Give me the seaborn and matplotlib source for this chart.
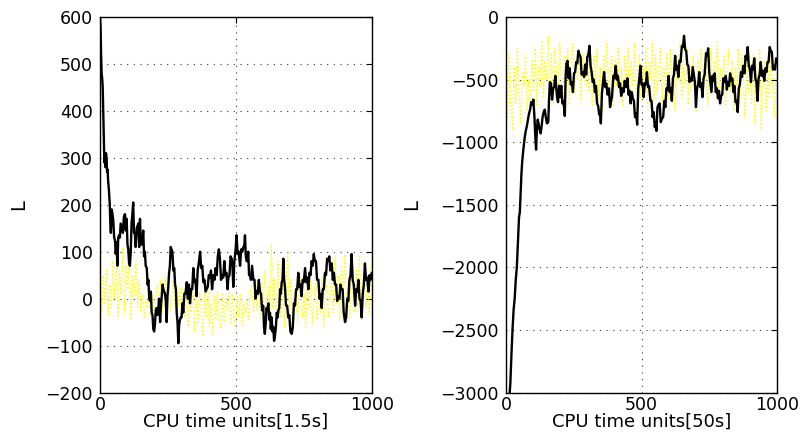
import numpy as np
import pandas as pd
import matplotlib
matplotlib.use("Agg")
import matplotlib.pyplot as plt
import seaborn as sns

# ---------------- data ----------------
left_black_t = [0, 2, 4, 6, 8, 10, 12, 14, 16, 18, 20, 22, 24, 26, 28, 30, 33, 36, 38, 40, 43, 46, 49, 52, 55, 58, 61, 64, 67, 70, 73, 76, 80, 84, 88, 92, 95, 98, 101, 104, 107, 110, 113, 116, 119, 122, 125, 128, 131, 135, 138, 141, 144, 147, 150, 153, 156, 159, 162, 165, 168, 172, 175, 178, 181, 184, 187, 190, 193, 196, 199, 202, 205, 208, 211, 214, 217, 221, 224, 227, 230, 233, 236, 239, 242, 245, 248, 251, 254, 257, 260, 263, 266, 270, 273, 276, 279, 282, 285, 288, 291, 294, 297, 300, 303, 306, 310, 314, 319, 323, 327, 331, 335, 339, 343, 347, 351, 355, 359, 363, 368, 372, 376, 380, 384, 388, 392, 396, 400, 404, 408, 412, 417, 421, 425, 429, 433, 437, 441, 445, 449, 453, 457, 461, 465, 469, 472, 476, 480, 484, 487, 490, 494, 498, 502, 506, 510, 515, 519, 523, 527, 530, 533, 536, 539, 542, 545, 548, 551, 555, 559, 564, 568, 572, 576, 580, 584, 588, 592, 596, 600, 603, 606, 609, 612, 615, 619, 622, 625, 628, 631, 634, 637, 640, 643, 646, 650, 653, 656, 659, 662, 665, 668, 671, 674, 677, 680, 684, 688, 692, 696, 700, 705, 709, 713, 717, 721, 725, 729, 733, 737, 741, 745, 749, 754, 758, 762, 766, 770, 774, 778, 782, 786, 790, 794, 798, 803, 807, 811, 815, 819, 823, 827, 831, 835, 839, 843, 847, 852, 856, 860, 864, 868, 872, 876, 880, 884, 888, 892, 896, 901, 905, 909, 913, 917, 921, 925, 929, 933, 938, 942, 946, 950, 954, 958, 962, 966, 970, 974, 978, 982, 987, 991, 995, 999]
left_black_L = [600, 580, 520, 480, 470, 450, 400, 340, 290, 300,
                280, 310, 300, 270, 275, 250, 230, 200, 160, 140,
                190, 180, 165, 130, 125, 95, 120, 70, 130, 135,
                130, 160, 150, 140, 175, 180, 145, 170, 115, 105,
                75, 70, 100, 160, 180, 205, 140, 140, 110, 150,
                155, 160, 110, 170, 120, 115, 125, 145, 90, 100,
                70, 65, 30, 40, 0, -5, 15, -30, -35, -65,
                -70, -55, -25, -20, -35, -25, 0, -50, -15, 5,
                30, 20, 15, 10, -5, -50, 5, 25, 55, 70,
                110, 105, 100, 60, 65, 30, 20, -30, -50, -95,
                -55, -45, -40, -40, -10, -30, 10, 10, 35, 0,
                30, -10, 20, 20, 65, 35, 40, 5, 60, 75,
                100, 65, 70, 35, 40, 15, 20, 25, 50, 45,
                60, 20, 50, 40, 65, 50, 90, 105, 85, 40,
                50, 45, 80, 50, 55, 20, 45, 50, 90, 85,
                70, 25, 80, 100, 135, 95, 100, 70, 105, 100,
                110, 110, 135, 90, 80, 80, 100, 50, 50, 40,
                70, 40, 40, 0, 15, 10, 40, 15, 10, -25,
                -15, -60, -75, -55, -20, -25, -10, -45, -30, -65,
                -40, -70, -60, -90, -80, -65, -30, -40, -25, -20,
                20, 10, 35, 40, 85, 40, 25, -15, -15, -40,
                -35, -70, -75, -60, -10, -15, 20, 20, 55, 25,
                30, 5, 40, 35, 65, 35, 45, 20, 55, 50,
                80, 70, 95, 80, 80, 40, 40, 0, 10, -20,
                20, 20, 55, 50, 85, 80, 90, 60, 75, 40,
                55, 30, 30, -5, 5, 0, 30, 20, 20, -30,
                -50, -40, 0, -5, 40, 50, 95, 40, 30, -15,
                20, 15, 40, 0, -5, -40, 10, 30, 75, 40,
                45, 15, 50, 40, 55]

left_yellow_L = [20, -30, 50, -10, 60, -35, 30,
                 -20, 80, 0, 100, -40, 60, 10, 110, -30, 70, 20, 90, -45, 50, 5, 80, -20, 40,
                 -30, 10, -40, 0, -20, 5, -35, 10, -25, 0,
                 30, -20, 40, -30, 20, 45, -10, 35, -25, 10, 40, -20, 30, -15, 25, -30, 20,
                 -40, 20, -60, 10, -30, 25, -70, 0, -50, 15, -20, -80, 10, -40, 20, -60, -10, -75, 5, -45, 15, -30, -65, 10, -50, 0, -25, 12,
                 -50, 10, -30, -60, 5, -40, 12, -55, -10, -35, 0, -45, 10,
                 30, -30, 40, -20, 25, -40, 35, -10,
                 60, -45, 30, -30, 118, -20, 40, -50, 80, 0, -40, 35, -60, 20, 100, -30, 40, -45, 10, 30,
                 -50, 20, 45, -40, 10, -60, 30, -20, 40, -55, 0, 35, -45, 20, -30, 45, -60, 10, 30, -40, 5,
                 60, -30, 90, -10, 50, -45, 70, 0, 95, -20, 40, -40, 80, 10, -30, 60, -15, 90, -45, 30, 70, -20, 50, -35, 80]

right_black_t = [12, 16, 20, 24, 28, 32, 36, 40, 44, 48, 51, 54, 57, 60, 64, 68, 72, 77, 81, 85, 89, 93, 97, 101, 105, 108, 111, 114, 117, 120, 124, 128, 131, 135, 139, 143, 147, 151, 156, 159, 162, 166, 170, 174, 178, 182, 186, 189, 192, 196, 200, 204, 208, 212, 217, 220, 223, 227, 231, 235, 239, 243, 247, 251, 255, 259, 263, 267, 271, 275, 279, 284, 288, 292, 296, 300, 304, 308, 312, 316, 320, 324, 328, 332, 336, 340, 344, 347, 350, 354, 358, 362, 366, 370, 375, 380, 384, 387, 391, 396, 400, 405, 409, 413, 417, 421, 425, 430, 434, 438, 443, 448, 452, 456, 460, 464, 468, 472, 476, 480, 484, 488, 492, 496, 500, 504, 508, 512, 516, 520, 524, 528, 533, 537, 541, 545, 549, 552, 555, 559, 563, 567, 571, 576, 580, 584, 588, 592, 596, 600, 604, 608, 612, 616, 620, 624, 628, 632, 636, 640, 644, 649, 653, 657, 661, 665, 669, 673, 677, 681, 685, 689, 693, 697, 701, 705, 709, 713, 717, 721, 725, 729, 733, 738, 742, 746, 750, 754, 758, 762, 766, 770, 774, 778, 782, 786, 790, 794, 798, 802, 807, 811, 815, 819, 823, 827, 831, 835, 839, 843, 847, 851, 855, 859, 863, 867, 871, 875, 880, 884, 888, 892, 896, 900, 904, 908, 912, 916, 920, 924, 928, 932, 936, 940, 944, 948, 953, 957, 961, 965, 969, 973, 977, 981, 985, 989, 993, 997, 1000]
right_black_L = [-3050, -2930, -2700, -2500, -2340, -2250, -2100, -2000, -1800, -1600,
                 -1560, -1400, -1250, -1150, -1060, -980, -920, -870, -820, -770,
                 -740, -680, -700, -660, -800, -950, -1060, -900, -820, -850,
                 -900, -930, -880, -800, -760, -740, -800, -850, -840, -650,
                 -520, -530, -660, -570, -560, -470, -580, -650, -680, -550,
                 -640, -550, -690, -670, -790, -480, -370, -350, -490, -410,
                 -540, -520, -600, -450, -440, -360, -370, -270, -300, -320,
                 -460, -440, -480, -380, -460, -320, -300, -230, -390, -440,
                 -520, -500, -600, -550, -690, -710, -780, -760, -850, -610,
                 -520, -440, -560, -530, -620, -570, -720, -680, -640, -470,
                 -490, -390, -500, -470, -560, -530, -630, -570, -600, -510,
                 -560, -490, -620, -590, -690, -600, -650, -670, -800, -770,
                 -860, -570, -490, -390, -540, -530, -640, -530, -540, -440,
                 -560, -550, -670, -670, -800, -760, -880, -840, -910, -720,
                 -700, -690, -840, -810, -800, -670, -720, -570, -580, -470,
                 -600, -570, -670, -490, -460, -310, -420, -390, -480, -350,
                 -360, -230, -240, -150, -260, -270, -380, -390, -520, -490,
                 -510, -400, -460, -520, -720, -570, -540, -440, -560, -530,
                 -640, -490, -460, -290, -310, -250, -440, -520, -600, -470,
                 -510, -450, -600, -570, -650, -590, -690, -630, -620, -490,
                 -520, -470, -580, -520, -550, -450, -510, -490, -600, -550,
                 -680, -670, -760, -570, -540, -440, -480, -390, -450, -310,
                 -340, -240, -390, -420, -520, -390, -420, -330, -490, -520,
                 -670, -490, -460, -360, -470, -430, -510, -410, -440, -360,
                 -360, -240, -270, -280, -420, -390, -420, -330, -360]

right_yellow_L = [-500, -800, -300, -650, -900, -400, -700, -250, -600, -850, -450, -550, -300, -750, -500, -650, -350,
                  -600, -250, -700, -400, -550, -200, -650, -350, -500, -150, -600, -300, -700, -250, -450, -550, -200, -500,
                  -650, -300, -550, -250, -700, -400, -200, -600, -350, -500, -250, -650, -300, -450, -550, -280, -600,
                  -350, -700, -300, -550, -250, -650, -400, -750, -300, -500, -200, -600, -450, -300, -700, -350, -550,
                  -250, -600, -400, -700, -300, -500, -250, -650, -350, -550, -200, -600, -450, -300, -650, -400,
                  -550, -250, -700, -350, -500, -200, -650, -300, -600, -450, -250, -700, -400, -550, -300, -650,
                  -250, -600, -400, -750, -300, -500, -200, -650, -350, -550, -250, -700, -400, -600, -300, -500, -750,
                  -350, -550, -250, -650, -400, -300, -700, -450, -250, -600, -350, -500, -200, -650, -400, -550,
                  -300, -700, -450, -250, -600, -350, -750, -400, -550, -250, -650, -300, -500, -800, -350, -600, -450,
                  -700, -300, -850, -450, -600, -250, -900, -500, -350, -750, -400, -650, -300, -550, -800, -450]

yellow_step = 6
xticks = [0, 500, 1000]
left_yticks = [-200, -100, 0, 100, 200, 300, 400, 500, 600]
right_yticks = [-3000, -2500, -2000, -1500, -1000, -500, 0]
xlabels = ["CPU time units[1.5s]", "CPU time units[50s]"]
ylabel = "L"

# ---------------- plotting ----------------
sns.set_style("white")
plt.rcParams['font.family'] = ['DejaVu Sans']
FS = 12.5

fig = plt.figure(figsize=(8.06, 4.32), dpi=100)
W, H = 806, 432
ax1 = fig.add_axes([100 / W, 1 - 392.5 / H, 272 / W, 375.5 / H])
ax2 = fig.add_axes([506 / W, 1 - 392.5 / H, 271 / W, 375.5 / H])

yl_t = np.arange(len(left_yellow_L)) * yellow_step
yr_t = np.arange(len(right_yellow_L)) * yellow_step

panels = [
    (ax1, yl_t, left_yellow_L, left_black_t, left_black_L, (-200, 600), left_yticks, xlabels[0], (28 - 100) / 272),
    (ax2, yr_t, right_yellow_L, right_black_t, right_black_L, (-3000, 0), right_yticks, xlabels[1], (421 - 506) / 271),
]

for ax, yt, yv, bt, bv, ylim, yticks, xl, ylx in panels:
    sns.lineplot(x=yt, y=yv, ax=ax, color=(1.0, 1.0, 0.0), linestyle=':', linewidth=1.0, estimator=None)
    sns.lineplot(x=bt, y=bv, ax=ax, color='black', linewidth=1.7, estimator=None)
    ax.set_xlim(0, 1000)
    ax.set_ylim(*ylim)
    ax.set_xticks(xticks)
    ax.set_yticks(yticks)
    ax.grid(True, color='#333333', linestyle=(0, (1, 5)), linewidth=0.8)
    ax.tick_params(axis='both', direction='in', length=4, width=0.8, top=True, right=True,
                   labelsize=FS, colors='black')
    ax.tick_params(axis='y', pad=5)
    ax.tick_params(axis='x', pad=2.5)
    for s in ax.spines.values():
        s.set_visible(True)
        s.set_color('black')
        s.set_linewidth(1.0)
    ax.set_xlabel(xl, fontsize=FS + 0.5, color='black')
    ax.xaxis.set_label_coords(0.5, (392.5 - 413) / 375.5)
    ax.xaxis.label.set_va('top')
    ax.set_ylabel(ylabel, fontsize=FS + 1.5, color='black')
    ax.yaxis.set_label_coords(ylx, 0.5)
    ax.set_facecolor('white')

fig.savefig("out.png", dpi=100, facecolor='white')
